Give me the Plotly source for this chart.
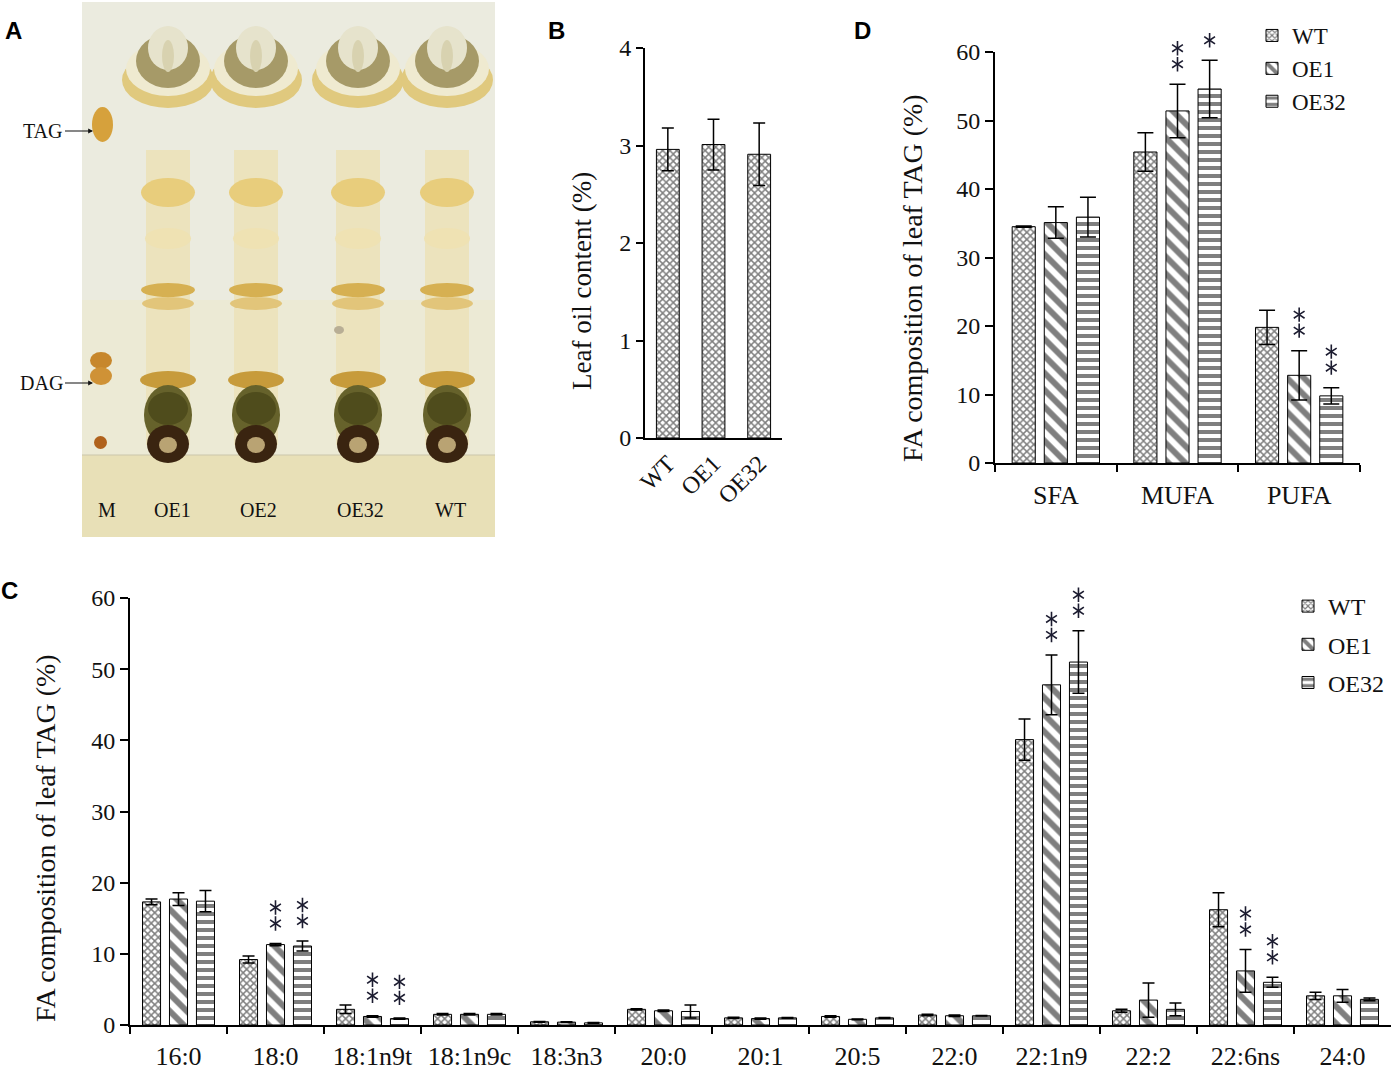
import plotly.graph_objects as go

# ---- data ----
genotypes_b = ["WT", "OE1", "OE32"]
oil_b = [2.96, 3.01, 2.91]
oil_b_err = [0.22, 0.26, 0.32]

groups_d = ["SFA", "MUFA", "PUFA"]
wt_d = [34.5, 45.4, 19.8]
wt_d_err = [0.1, 2.8, 2.5]
oe1_d = [35.1, 51.4, 12.8]
oe1_d_err = [2.3, 3.9, 3.6]
oe32_d = [35.9, 54.6, 9.8]
oe32_d_err = [2.9, 4.2, 1.2]
sig_oe1_d = [0, 2, 2]
sig_oe32_d = [0, 1, 2]

fa_c = ["16:0", "18:0", "18:1n9t", "18:1n9c", "18:3n3", "20:0", "20:1",
        "20:5", "22:0", "22:1n9", "22:2", "22:6ns", "24:0"]
wt_c = [17.3, 9.2, 2.2, 1.5, 0.45, 2.2, 1.0, 1.2, 1.4, 40.1, 2.0, 16.2, 4.1]
wt_c_err = [0.4, 0.5, 0.6, 0.1, 0.05, 0.1, 0.1, 0.1, 0.1, 2.9, 0.2, 2.4, 0.5]
oe1_c = [17.7, 11.3, 1.2, 1.5, 0.4, 2.0, 0.9, 0.8, 1.3, 47.8, 3.5, 7.6, 4.1]
oe1_c_err = [0.9, 0.15, 0.1, 0.1, 0.05, 0.1, 0.1, 0.05, 0.1, 4.2, 2.4, 3.0, 0.9]
oe32_c = [17.4, 11.1, 0.9, 1.5, 0.3, 1.9, 1.0, 1.0, 1.3, 51.0, 2.2, 6.0, 3.6]
oe32_c_err = [1.5, 0.7, 0.1, 0.1, 0.05, 0.9, 0.05, 0.05, 0.05, 4.4, 0.9, 0.7, 0.2]
sig_oe1_c = [0, 2, 2, 0, 0, 0, 0, 0, 0, 2, 0, 2, 0]
sig_oe32_c = [0, 2, 2, 0, 0, 0, 0, 0, 0, 2, 0, 2, 0]

plate_lanes = ["M", "OE1", "OE2", "OE32", "WT"]

W, H = 1396, 1080
SERIF = "Liberation Serif"
INK = "#111111"
STAR = "#1c1c30"


def px(x):
    return x / W


def py(y):
    return 1 - y / H


patterns = {
    "WT": dict(shape="x", size=5, solidity=0.5, fgcolor="black", bgcolor="white"),
    "OE1": dict(shape="\\", size=12, solidity=0.5, fgcolor="black", bgcolor="white"),
    "OE32": dict(shape="-", size=8, solidity=0.5, fgcolor="black", bgcolor="white"),
}

# pixel layout of the value axes (bottom / top of the 0..60 range)
D_Y0, D_Y60 = 463, 52
C_Y0, C_Y60 = 1025, 598

fig = go.Figure()

# ---- panel B ----
fig.add_trace(go.Bar(
    x=genotypes_b, y=oil_b, xaxis="x", yaxis="y", width=0.5, offset=-0.25,
    marker=dict(color="white", line=dict(color="black", width=1), pattern=patterns["WT"]),
    error_y=dict(type="data", array=oil_b_err, color="black", thickness=1.5, width=6),
    showlegend=False,
))

# ---- panel D ----
w_d, step_d = 0.19, 0.264
series_d = [("WT", wt_d, wt_d_err), ("OE1", oe1_d, oe1_d_err), ("OE32", oe32_d, oe32_d_err)]
for i, (name, vals, errs) in enumerate(series_d):
    fig.add_trace(go.Bar(
        x=groups_d, y=vals, name=name, xaxis="x2", yaxis="y2",
        width=w_d, offset=-w_d / 2 + (i - 1) * step_d,
        marker=dict(color="white", line=dict(color="black", width=1), pattern=patterns[name]),
        error_y=dict(type="data", array=errs, color="black", thickness=1.5, width=8),
        legend="legend2", legendgroup="d" + name,
    ))

# ---- panel C ----
w_c, step_c = 0.186, 0.278
series_c = [("WT", wt_c, wt_c_err), ("OE1", oe1_c, oe1_c_err), ("OE32", oe32_c, oe32_c_err)]
for i, (name, vals, errs) in enumerate(series_c):
    fig.add_trace(go.Bar(
        x=fa_c, y=vals, name=name, xaxis="x3", yaxis="y3",
        width=w_c, offset=-w_c / 2 + (i - 1) * step_c,
        marker=dict(color="white", line=dict(color="black", width=1), pattern=patterns[name]),
        error_y=dict(type="data", array=errs, color="black", thickness=1.5, width=6),
        legend="legend", legendgroup="c" + name,
    ))


# significance asterisks: six-armed star markers above the error bars, drawn on
# hidden numeric axes that share the bar axes' zero and scale but reach higher
def add_stars(xa, ya, vals, errs, sig, slot, units_per_px):
    xs, ys = [], []
    for k in range(len(vals)):
        for s in range(sig[k]):
            xs.append(k + slot)
            ys.append(vals[k] + errs[k] + (20 + 16 * s) * units_per_px)
    for sym in ["y-up-open", "y-down-open"]:
        fig.add_trace(go.Scatter(
            x=xs, y=ys, xaxis=xa, yaxis=ya, mode="markers", showlegend=False,
            marker=dict(symbol=sym, size=9, color=STAR, line=dict(color=STAR, width=1.6)),
            hoverinfo="skip",
        ))


d_scale = 60 / (D_Y0 - D_Y60)
c_scale = 60 / (C_Y0 - C_Y60)
add_stars("x5", "y5", oe1_d, oe1_d_err, sig_oe1_d, 0, d_scale)
add_stars("x5", "y5", oe32_d, oe32_d_err, sig_oe32_d, step_d, d_scale)
add_stars("x6", "y6", oe1_c, oe1_c_err, sig_oe1_c, 0, c_scale)
add_stars("x6", "y6", oe32_c, oe32_c_err, sig_oe32_c, step_c, c_scale)

ann = []

# axis titles
for text, tx, ty, size in [("Leaf oil content (%)", 582, 281, 27),
                           ("FA composition of leaf TAG (%)", 912, 278, 28),
                           ("FA composition of leaf TAG (%)", 45, 838, 28)]:
    ann.append(dict(x=px(tx), y=py(ty), xref="paper", yref="paper", text=text,
                    xanchor="center", yanchor="middle", textangle=-90, showarrow=False,
                    font=dict(family=SERIF, size=size, color=INK)))

# panel letters
for letter, lx, ly in [("A", 13, 30), ("B", 556, 30), ("C", 9, 590), ("D", 862, 30)]:
    ann.append(dict(x=px(lx), y=py(ly), xref="paper", yref="paper", text="<b>%s</b>" % letter,
                    xanchor="center", yanchor="middle", showarrow=False,
                    font=dict(family="Liberation Sans", size=24, color="black")))

# ---- panel A: TLC plate sketch (drawn in plate pixel coordinates) ----
shapes = []


def ell(x0, y0, x1, y1, color, kind="circle"):
    shapes.append(dict(type=kind, xref="x4", yref="y4", x0=x0, x1=x1, y0=y0, y1=y1,
                       fillcolor=color, line=dict(width=0), layer="above"))


ell(82, 2, 495, 537, "#ebebdf", "rect")
ell(82, 300, 495, 455, "#ecead5", "rect")
ell(82, 455, 495, 537, "#e8e0b7", "rect")
shapes.append(dict(type="line", xref="x4", yref="y4", x0=82, x1=495, y0=455, y1=455,
                   line=dict(color="#cbc6ab", width=1), layer="above"))

lane_x = {"OE1": 168, "OE2": 256, "OE32": 358, "WT": 447}
for cx in lane_x.values():
    ell(cx - 22, 150, cx + 22, 445, "#ece3bd", "rect")
    ell(cx - 46, 52, cx + 46, 108, "#e0c97e")
    ell(cx - 42, 42, cx + 42, 96, "#efead0")
    ell(cx - 32, 34, cx + 32, 88, "#a69a68")
    ell(cx - 20, 26, cx + 20, 70, "#e6e3cc")
    ell(cx - 6, 40, cx + 6, 72, "#d8d2b0")
    ell(cx - 27, 178, cx + 27, 207, "#e8cd7c")
    ell(cx - 23, 228, cx + 23, 249, "#efe2b3")
    ell(cx - 27, 283, cx + 27, 297, "#d6b052")
    ell(cx - 26, 297, cx + 26, 310, "#e2c57a")
    ell(cx - 28, 371, cx + 28, 389, "#c79b3b")
    ell(cx - 24, 385, cx + 24, 445, "#66622b")
    ell(cx - 20, 392, cx + 20, 425, "#4f4c1c")
    ell(cx - 21, 425, cx + 21, 463, "#3a2410")
    ell(cx - 9, 437, cx + 9, 453, "#b9a373")

ell(92, 107, 113, 142, "#d6a13c")
ell(90, 352, 112, 369, "#c7872c")
ell(90, 367, 112, 385, "#cf9236")
ell(94, 436, 107, 449, "#b0621c")
ell(334, 326, 344, 334, "#b8ae95")

for name, lx in zip(plate_lanes, [107, 172, 258, 360, 450]):
    ann.append(dict(x=lx, y=510, xref="x4", yref="y4", text=name, showarrow=False,
                    font=dict(family=SERIF, size=20, color=INK)))

for label, ly in [("TAG", 131), ("DAG", 383)]:
    ann.append(dict(x=px(93), y=py(ly), xref="paper", yref="paper", text=label,
                    showarrow=True, ax=-28, ay=0, xanchor="right", arrowhead=2,
                    arrowsize=0.8, arrowwidth=1.2, arrowcolor=INK,
                    font=dict(family=SERIF, size=20, color=INK)))

axis_common = dict(showline=True, linecolor="black", linewidth=2, showgrid=False,
                   zeroline=False, tickcolor="black", tickwidth=2, ticklen=7,
                   tickfont=dict(family=SERIF, size=24, color=INK))

fig.update_layout(
    width=W, height=H, margin=dict(l=0, r=0, t=0, b=0, autoexpand=False),
    paper_bgcolor="white", plot_bgcolor="rgba(0,0,0,0)",
    barmode="group",
    shapes=shapes, annotations=ann,
    xaxis=dict(axis_common, domain=[px(645), px(782)], anchor="y", type="category",
               range=[-0.5, 2.5], ticks="", tickangle=-45),
    yaxis=dict(axis_common, domain=[py(438), py(48)], anchor="x", range=[0, 4], dtick=1,
               ticks="outside"),
    xaxis2=dict(axis_common, domain=[px(995), px(1360)], anchor="y2", type="category",
                range=[-0.5, 2.5], ticks="outside", tickson="boundaries",
                ticklabelstandoff=8, tickfont=dict(family=SERIF, size=26, color=INK)),
    yaxis2=dict(axis_common, domain=[py(D_Y0), py(D_Y60)], anchor="x2", range=[0, 60], dtick=10,
                ticks="outside", ticklen=8),
    xaxis3=dict(axis_common, domain=[px(130), px(1391)], anchor="y3", type="category",
                range=[-0.5, 12.5], ticks="outside", tickson="boundaries",
                ticklabelstandoff=7, tickfont=dict(family=SERIF, size=26, color=INK)),
    yaxis3=dict(axis_common, domain=[py(C_Y0), py(C_Y60)], anchor="x3", range=[0, 60], dtick=10,
                ticks="outside", ticklen=8),
    xaxis4=dict(domain=[px(82), px(495)], anchor="y4", range=[82, 495], visible=False),
    yaxis4=dict(domain=[py(537), py(2)], anchor="x4", range=[537, 2], visible=False),
    xaxis5=dict(domain=[px(995), px(1360)], anchor="y5", range=[-0.5, 2.5], visible=False),
    yaxis5=dict(domain=[py(D_Y0), 1], anchor="x5", range=[0, D_Y0 * d_scale], visible=False),
    xaxis6=dict(domain=[px(130), px(1391)], anchor="y6", range=[-0.5, 12.5], visible=False),
    yaxis6=dict(domain=[py(C_Y0), py(560)], anchor="x6", range=[0, (C_Y0 - 560) * c_scale],
                visible=False),
    legend=dict(x=px(1288), y=py(584), xanchor="left", yanchor="top",
                font=dict(family=SERIF, size=24, color=INK), tracegroupgap=4,
                bgcolor="rgba(0,0,0,0)"),
    legend2=dict(x=px(1252), y=py(14), xanchor="left", yanchor="top",
                 font=dict(family=SERIF, size=23, color=INK), tracegroupgap=0,
                 bgcolor="rgba(0,0,0,0)"),
)

fig.write_html("out.html", config={"displayModeBar": False},
               post_script="document.body.style.margin='0';")
